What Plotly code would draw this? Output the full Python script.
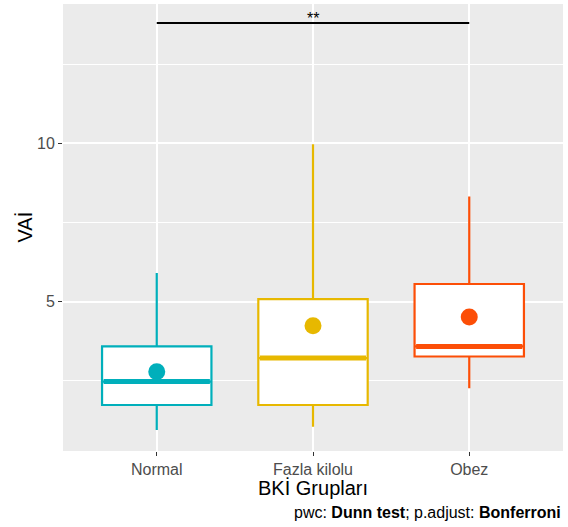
import plotly.graph_objects as go

# BKİ groups and VAİ box statistics
groups = ["Normal", "Fazla kilolu", "Obez"]
colors = ["#00AFBB", "#E7B800", "#FC4E07"]
lower_whisker = [0.95, 1.05, 2.27]
q1 = [1.74, 1.74, 3.27]
median = [2.48, 3.22, 3.59]
q3 = [3.59, 5.08, 5.56]
upper_whisker = [5.91, 9.97, 8.32]
means = [2.79, 4.24, 4.52]

# pairwise comparison (Dunn test, Bonferroni)
comp_from = 0
comp_to = 2
comp_y = 13.8
comp_label = "**"

BOX_W = 0.7
FONT = "Liberation Sans, Arial, sans-serif"

fig = go.Figure()
xs = list(range(len(groups)))

for i, g in enumerate(groups):
    fig.add_trace(go.Box(
        x=[xs[i]], q1=[q1[i]], median=[median[i]], q3=[q3[i]],
        lowerfence=[lower_whisker[i]], upperfence=[upper_whisker[i]],
        width=BOX_W, whiskerwidth=0, fillcolor="white",
        line=dict(color=colors[i], width=2.2), name=g,
        boxpoints=False, hoverinfo="skip",
    ))

# bold median bars
for i, g in enumerate(groups):
    fig.add_trace(go.Scatter(
        x=[xs[i] - BOX_W / 2 + 0.01, xs[i] + BOX_W / 2 - 0.01],
        y=[median[i], median[i]], mode="lines",
        line=dict(color=colors[i], width=5), hoverinfo="skip",
    ))

# group means
fig.add_trace(go.Scatter(
    x=xs, y=means, mode="markers",
    marker=dict(color=colors, size=17, line=dict(width=0)),
    hoverinfo="skip",
))

# significance bracket
fig.add_trace(go.Scatter(
    x=[xs[comp_from], xs[comp_to]], y=[comp_y, comp_y], mode="lines",
    line=dict(color="black", width=1.8), hoverinfo="skip",
))
fig.add_annotation(
    x=(xs[comp_from] + xs[comp_to]) / 2, y=comp_y, text=comp_label,
    showarrow=False, yanchor="bottom", yshift=-6,
    font=dict(family=FONT, size=16, color="black"),
)

fig.update_layout(
    width=568, height=527,
    margin=dict(l=63, r=5, t=4, b=76),
    paper_bgcolor="white", plot_bgcolor="#EBEBEB",
    showlegend=False,
    font=dict(family=FONT),
    xaxis=dict(
        range=[-0.6, 2.6], tickvals=xs, ticktext=groups,
        showgrid=True, gridcolor="white", gridwidth=1.5,
        zeroline=False, showline=False,
        ticks="outside", ticklen=4, tickcolor="#333333", tickwidth=1,
        tickfont=dict(size=16, color="#4D4D4D"),
    ),
    yaxis=dict(
        range=[0.287, 14.40], tick0=0, dtick=5,
        showgrid=True, gridcolor="white", gridwidth=1.5,
        minor=dict(dtick=2.5, showgrid=True, gridcolor="white", gridwidth=0.7),
        zeroline=False, showline=False,
        ticks="outside", ticklen=4, tickcolor="#333333", tickwidth=1,
        tickfont=dict(size=16, color="#4D4D4D"),
    ),
)

fig.add_annotation(
    xref="paper", yref="paper", x=0.5, y=-0.083, yanchor="middle",
    text="BKİ Grupları", showarrow=False,
    font=dict(family=FONT, size=20, color="black"),
)
fig.add_annotation(
    xref="paper", yref="paper", x=-0.078, y=0.5, textangle=-90, xshift=-13,
    text="VAİ", showarrow=False,
    font=dict(family=FONT, size=20, color="black"),
)
fig.add_annotation(
    xref="paper", yref="paper", x=1.0, y=-0.137, xanchor="right", yanchor="middle",
    text="pwc: <b>Dunn test</b>; p.adjust: <b>Bonferroni</b>", showarrow=False,
    font=dict(family=FONT, size=16, color="black"),
)

fig.write_html("out.html")
